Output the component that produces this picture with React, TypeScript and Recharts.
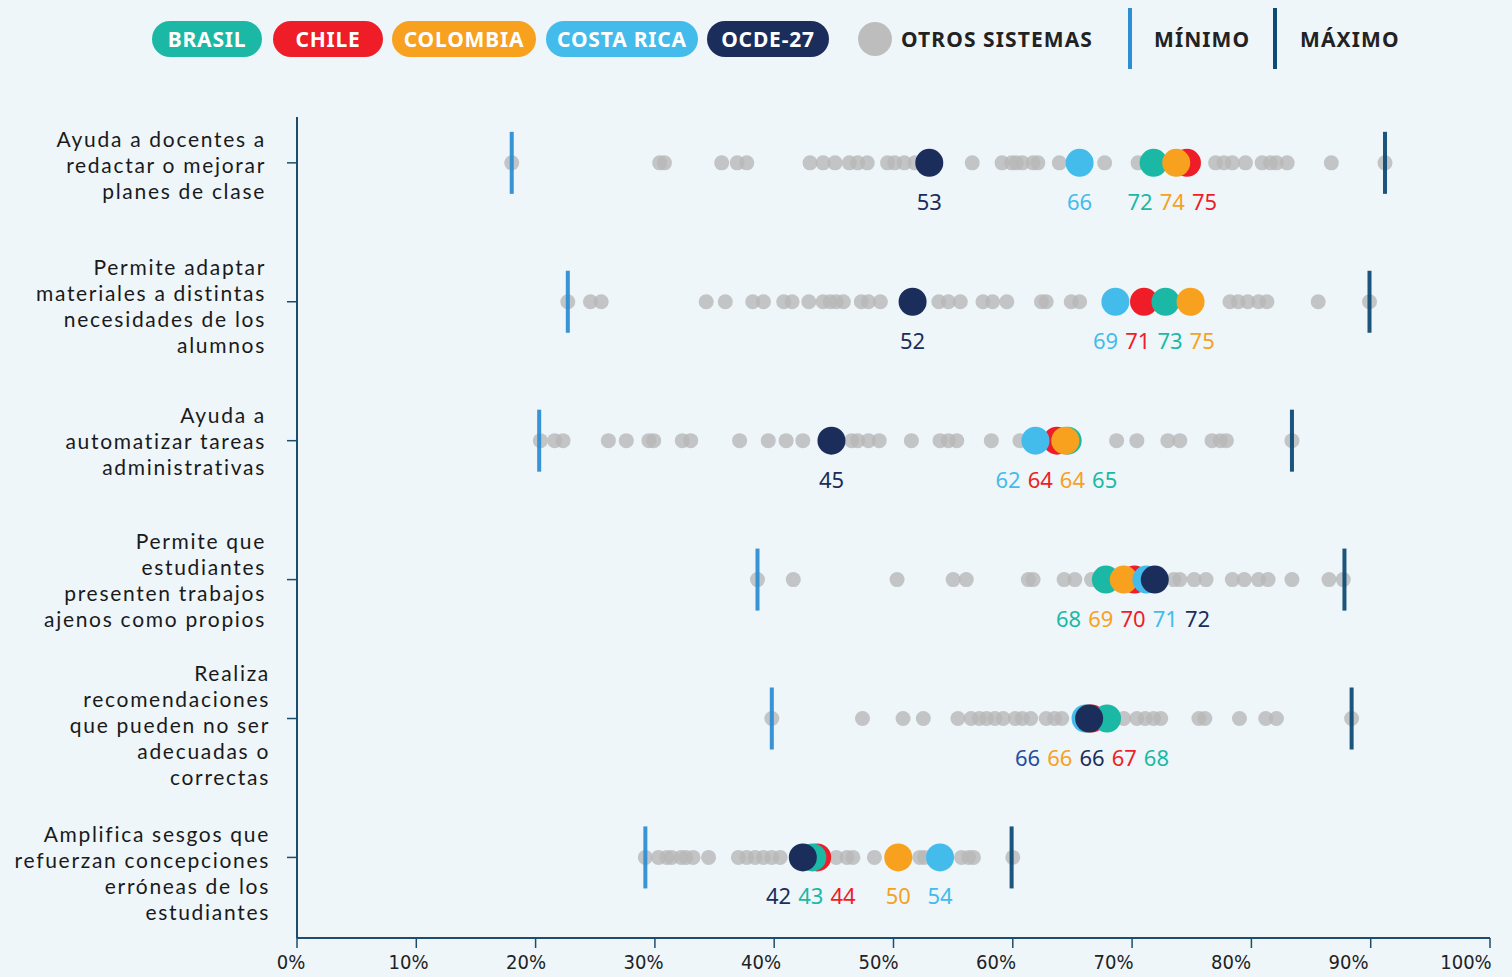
import React from "react";
import { ScatterChart, Scatter, XAxis, YAxis } from "recharts";

// categorías (una línea por renglón del rótulo)
const CATEGORIES: string[][] = [
  ["Ayuda a docentes a", "redactar o mejorar", "planes de clase"],
  ["Permite adaptar", "materiales a distintas", "necesidades de los", "alumnos"],
  ["Ayuda a", "automatizar tareas", "administrativas"],
  ["Permite que", "estudiantes", "presenten trabajos", "ajenos como propios"],
  ["Realiza", "recomendaciones", "que pueden no ser", "adecuadas o", "correctas"],
  ["Amplifica sesgos que", "refuerzan concepciones", "erróneas de los", "estudiantes"],
];

const BRASIL = [71.8, 72.8, 64.6, 67.8, 67.9, 43.2];
const CHILE = [74.6, 71.0, 63.7, 70.2, 66.6, 43.6];
const COLOMBIA = [73.7, 74.9, 64.4, 69.3, 66.2, 50.4];
const COSTA_RICA = [65.6, 68.6, 61.9, 71.2, 66.1, 53.9];
const OCDE = [53.0, 51.6, 44.8, 71.9, 66.4, 42.4];

const MINIMO = [18.0, 22.7, 20.3, 38.6, 39.8, 29.2];
const MAXIMO = [91.2, 89.9, 83.4, 87.8, 88.4, 59.9];

const OTROS: number[][] = [
  [18.0, 30.4, 30.8, 35.6, 36.9, 37.7, 43.0, 44.1, 45.1, 46.3, 47.0, 47.8, 49.5, 50.1, 50.9, 51.8, 56.6,
    59.1, 59.9, 60.3, 60.8, 61.7, 62.1, 63.9, 67.7, 70.5, 77.0, 77.7, 78.4, 79.5, 80.9, 81.6, 82.1, 83.0, 86.7, 91.2],
  [22.7, 24.6, 25.5, 34.3, 35.9, 38.2, 39.1, 40.8, 41.5, 42.9, 44.1, 44.7, 45.2, 45.8, 47.3, 47.9, 48.9,
    53.8, 54.6, 55.6, 57.5, 58.3, 59.5, 62.4, 62.8, 64.9, 65.6, 78.2, 78.9, 79.7, 80.6, 81.3, 85.6, 89.9],
  [20.4, 21.6, 22.3, 26.1, 27.6, 29.5, 29.9, 32.3, 33.0, 37.1, 39.5, 41.0, 42.4, 46.5, 47.0, 47.9, 48.8,
    51.5, 53.9, 54.6, 55.3, 58.2, 60.6, 68.7, 70.4, 73.0, 74.0, 76.7, 77.4, 77.9, 83.4],
  [38.6, 41.6, 50.3, 55.0, 56.1, 61.3, 61.7, 64.3, 65.2, 66.6, 73.5, 74.0, 75.2, 76.2, 78.4, 79.4, 80.6,
    81.4, 83.4, 86.5, 87.7],
  [39.8, 47.4, 50.8, 52.5, 55.4, 56.5, 57.2, 57.8, 58.5, 59.2, 60.2, 60.8, 61.5, 62.8, 63.5, 64.1, 69.3,
    70.4, 71.1, 71.8, 72.4, 75.6, 76.1, 79.0, 81.2, 82.1, 88.4],
  [29.2, 30.3, 31.0, 31.4, 32.2, 32.6, 33.2, 34.5, 37.0, 37.7, 38.4, 39.1, 39.8, 40.5, 45.2, 46.1, 46.6,
    48.4, 52.2, 52.6, 55.7, 56.3, 56.7, 60.0],
];

const X_TICKS = [0, 10, 20, 30, 40, 50, 60, 70, 80, 90, 100];

const C_BRASIL = "#1BB9A5";
const C_CHILE = "#EE1D27";
const C_COLOMBIA = "#F7A11F";
const C_CR = "#43BCEC";
const C_OCDE = "#1B2D5A";
const C_GREY = "#B8B8B8";
const C_MIN = "#2E8ED4";
const C_MAX = "#0F4C74";
const C_AXIS = "#1E4D6B";
const BG = "#EEF6FA";
const FONT = "'Noto Sans', 'Open Sans', sans-serif";
const CAT_FONT = "Lato, 'Noto Sans', sans-serif";

// ajuste fino de los rótulos de categoría (px)
const CAT_DY = [2, 4, 0, 0, 6, 15];
const CAT_DX = [0, 0, 0, 0, 4, 4];

// orden de dibujo (el último queda encima)
const COUNTRIES = [
  { name: "Chile", color: C_CHILE, values: CHILE },
  { name: "Brasil", color: C_BRASIL, values: BRASIL },
  { name: "Colombia", color: C_COLOMBIA, values: COLOMBIA },
  { name: "Costa Rica", color: C_CR, values: COSTA_RICA },
  { name: "OCDE-27", color: C_OCDE, values: OCDE },
];

const LEGEND_PILLS = [
  { label: "BRASIL", color: C_BRASIL, left: 152, width: 110 },
  { label: "CHILE", color: C_CHILE, left: 273, width: 110 },
  { label: "COLOMBIA", color: C_COLOMBIA, left: 392, width: 144 },
  { label: "COSTA RICA", color: C_CR, left: 546, width: 152 },
  { label: "OCDE-27", color: C_OCDE, left: 707, width: 122 },
];

const rowOf = (i: number) => i + 1;

const greyData = OTROS.flatMap((row, i) => row.map((v) => ({ x: v, y: rowOf(i) })));
const minData = MINIMO.map((v, i) => ({ x: v, y: rowOf(i) }));
const maxData = MAXIMO.map((v, i) => ({ x: v, y: rowOf(i) }));

// etiquetas numéricas: se agrupan las cercanas y se reparten para que no se pisen
const labelData = (() => {
  const out: { x: number; y: number; text: string; color: string }[] = [];
  CATEGORIES.forEach((_, i) => {
    const items = COUNTRIES.map((c) => ({
      v: c.values[i],
      color: i === 4 && c.name === "Costa Rica" ? "#1F4E9E" : c.color,
    })).sort((a, b) => a.v - b.v);
    let group: typeof items = [];
    const flush = () => {
      if (!group.length) return;
      const mean = group.reduce((s, g) => s + g.v, 0) / group.length;
      group.forEach((g, k) => {
        out.push({
          x: mean + (k - (group.length - 1) / 2) * 2.7,
          y: rowOf(i),
          text: String(Math.round(g.v)),
          color: g.color,
        });
      });
      group = [];
    };
    items.forEach((it) => {
      if (group.length && it.v - group[group.length - 1].v >= 2.6) flush();
      group.push(it);
    });
    flush();
  });
  return out;
})();

const CategoryTick = ({ x, y, payload }: any) => {
  const idx = payload.value - 1;
  const lines = CATEGORIES[idx] || [];
  const lh = 26;
  const start = y + (CAT_DY[idx] || 0) - ((lines.length - 1) * lh) / 2;
  const tx = x - 19 + (CAT_DX[idx] || 0);
  return (
    <g>
      {lines.map((l, k) => (
        <text
          key={k}
          x={tx}
          y={start + k * lh}
          textAnchor="end"
          dominantBaseline="central"
          fontFamily={CAT_FONT}
          fontSize={21}
          letterSpacing={1.7}
          fill="#1a1a1a"
        >
          {l}
        </text>
      ))}
    </g>
  );
};

const PercentTick = ({ x, y, payload }: any) => (
  <text
    x={x - 6 - payload.value * 0.18}
    y={y + 19}
    textAnchor="middle"
    fontFamily="'DejaVu Sans Condensed', 'Liberation Sans', sans-serif"
    fontSize={20}
    fill="#222"
  >
    {`${payload.value}%`}
  </text>
);

const legendText: React.CSSProperties = {
  position: "absolute",
  top: 39,
  transform: "translateY(-50%)",
  fontWeight: 700,
  fontSize: 21,
  letterSpacing: 1.1,
  color: "#222",
  whiteSpace: "nowrap",
};

const Legend = () => (
  <div style={{ position: "absolute", left: 0, top: 0, width: 1512, height: 80, fontFamily: FONT }}>
    {LEGEND_PILLS.map((p) => (
      <div
        key={p.label}
        style={{
          position: "absolute",
          left: p.left,
          top: 21,
          width: p.width,
          height: 36,
          borderRadius: 18,
          background: p.color,
          color: "#fff",
          fontWeight: 700,
          fontSize: 21,
          letterSpacing: 0.8,
          display: "flex",
          alignItems: "center",
          justifyContent: "center",
          whiteSpace: "nowrap",
        }}
      >
        {p.label}
      </div>
    ))}
    <div
      style={{ position: "absolute", left: 858, top: 22, width: 34, height: 34, borderRadius: 17, background: "#BDBDBD" }}
    />
    <span style={{ ...legendText, left: 901 }}>OTROS SISTEMAS</span>
    <div style={{ position: "absolute", left: 1128, top: 8, width: 4, height: 61, background: C_MIN }} />
    <span style={{ ...legendText, left: 1154 }}>MÍNIMO</span>
    <div style={{ position: "absolute", left: 1273, top: 8, width: 4, height: 61, background: C_MAX }} />
    <span style={{ ...legendText, left: 1300 }}>MÁXIMO</span>
  </div>
);

export default function App() {
  return (
    <div
      style={{
        position: "absolute",
        left: 0,
        top: 0,
        width: 1512,
        height: 977,
        background: BG,
        overflow: "hidden",
      }}
    >
      <Legend />
      <ScatterChart
        width={1512}
        height={977}
        margin={{ top: 117, right: 22, bottom: 9, left: 10 }}
      >
        <XAxis
          type="number"
          dataKey="x"
          domain={[0, 100]}
          ticks={X_TICKS}
          height={30}
          tickSize={10}
          axisLine={{ stroke: C_AXIS, strokeWidth: 2 }}
          tickLine={{ stroke: C_AXIS, strokeWidth: 1.5 }}
          tick={<PercentTick />}
          interval={0}
        />
        <YAxis
          type="number"
          dataKey="y"
          domain={[0.67, 6.58]}
          reversed
          ticks={[1, 2, 3, 4, 5, 6]}
          width={287}
          tickSize={10}
          axisLine={{ stroke: C_AXIS, strokeWidth: 2 }}
          tickLine={{ stroke: C_AXIS, strokeWidth: 1.5 }}
          tick={<CategoryTick />}
          interval={0}
        />
        <Scatter
          data={greyData}
          isAnimationActive={false}
          shape={(p: any) => <circle cx={p.cx} cy={p.cy} r={7.5} fill={C_GREY} fillOpacity={0.8} />}
        />
        <Scatter
          data={minData}
          isAnimationActive={false}
          shape={(p: any) => <rect x={p.cx - 2} y={p.cy - 31} width={4} height={62} fill={C_MIN} fillOpacity={0.95} />}
        />
        <Scatter
          data={maxData}
          isAnimationActive={false}
          shape={(p: any) => <rect x={p.cx - 2} y={p.cy - 31} width={4} height={62} fill={C_MAX} fillOpacity={0.95} />}
        />
        {COUNTRIES.map((c) => (
          <Scatter
            key={c.name}
            name={c.name}
            data={c.values.map((v, i) => ({ x: v, y: rowOf(i) }))}
            isAnimationActive={false}
            shape={(p: any) => <circle cx={p.cx} cy={p.cy} r={14} fill={c.color} />}
          />
        ))}
        <Scatter
          data={labelData}
          isAnimationActive={false}
          shape={(p: any) => (
            <text
              x={p.cx}
              y={p.cy + 38}
              textAnchor="middle"
              dominantBaseline="central"
              fontFamily={FONT}
              fontSize={22}
              fill={p.payload.color}
            >
              {p.payload.text}
            </text>
          )}
        />
      </ScatterChart>
    </div>
  );
}
